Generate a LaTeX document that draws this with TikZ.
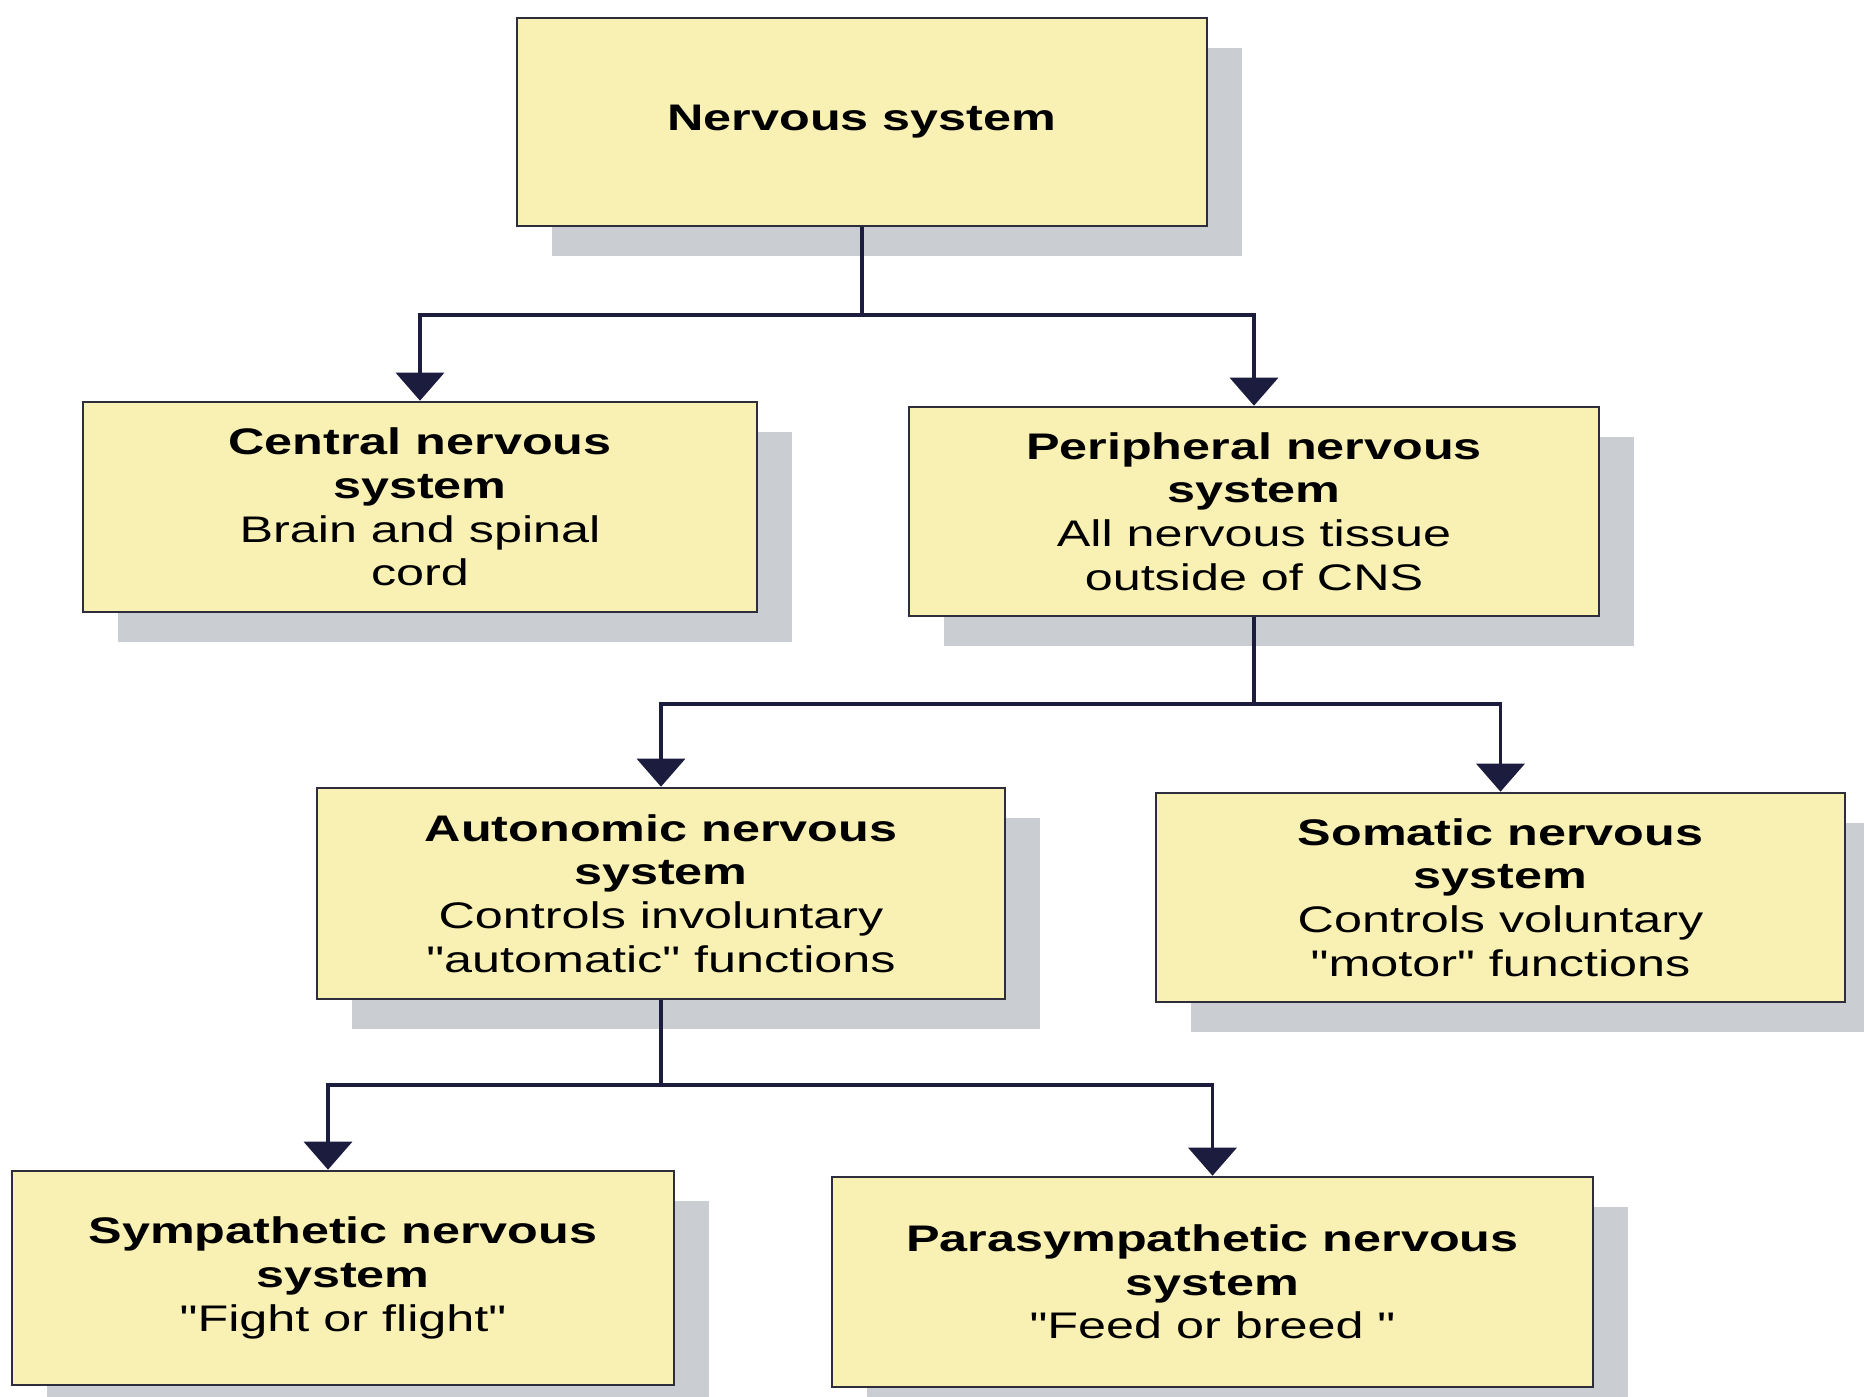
\documentclass[tikz,border=0pt]{standalone}
\usepackage{fontspec}
\setmainfont{Liberation Sans}[FakeStretch=1.36, Ligatures=TeXOff]
\usetikzlibrary{arrows.meta,shadows}
\definecolor{boxfill}{RGB}{249,241,180}
\definecolor{shadowgray}{RGB}{202,206,211}
\definecolor{boxline}{RGB}{45,45,60}
\definecolor{conn}{RGB}{28,28,62}
\tikzset{
  nbox/.style={draw=boxline, line width=1.3pt, fill=boxfill, align=center,
    inner sep=0pt, font=\fontsize{18.5pt}{21.8pt}\selectfont,
    drop shadow={shadow xshift=17.5pt, shadow yshift=-15pt, fill=shadowgray, opacity=1}},
  conline/.style={draw=conn, line width=1.8pt},
  arr/.style={conline, -{Triangle[width=24pt,length=14pt]}}
}
\begin{document}
\begin{tikzpicture}[x=0.5pt,y=-0.5pt]
\useasboundingbox (0,0) rectangle (1864,1397);
\node[nbox, minimum width=345pt, minimum height=104pt] (top) at (862,122) {\textbf{Nervous system}};
\node[nbox, minimum width=337pt, minimum height=105pt] (cns) at (420,507) {\textbf{Central nervous}\\\textbf{system}\\Brain and spinal\\cord};
\node[nbox, minimum width=345pt, minimum height=104.5pt] (pns) at (1254,511.5) {\textbf{Peripheral nervous}\\\textbf{system}\\All nervous tissue\\outside of CNS};
\node[nbox, minimum width=344pt, minimum height=105.5pt] (ans) at (661,893.5) {\textbf{Autonomic nervous}\\\textbf{system}\\Controls involuntary\\"automatic" functions};
\node[nbox, minimum width=344.5pt, minimum height=104.5pt] (sns) at (1500.5,897.5) {\textbf{Somatic nervous}\\\textbf{system}\\Controls voluntary\\"motor" functions};
\node[nbox, minimum width=331pt, minimum height=107pt] (symp) at (343,1278) {\textbf{Sympathetic nervous}\\\textbf{system}\\"Fight or flight"};
\node[nbox, minimum width=380.5pt, minimum height=105pt] (para) at (1212.5,1282) {\textbf{Parasympathetic nervous}\\\textbf{system}\\"Feed or breed "};
\coordinate (j1) at (top.south |- 0,315);
\coordinate (j2) at (pns.south |- 0,704);
\coordinate (j3) at (ans.south |- 0,1085);
\draw[conline] (top.south) -- (j1);
\draw[arr] (j1) -| (cns.north);
\draw[arr] (j1) -| (pns.north);
\draw[conline] (pns.south) -- (j2);
\draw[arr] (j2) -| (ans.north);
\draw[arr] (j2) -| (sns.north);
\draw[conline] (ans.south) -- (j3);
\draw[arr] (j3) -| ([xshift=-7.5pt]symp.north);
\draw[arr] (j3) -| (para.north);
\end{tikzpicture}
\end{document}
